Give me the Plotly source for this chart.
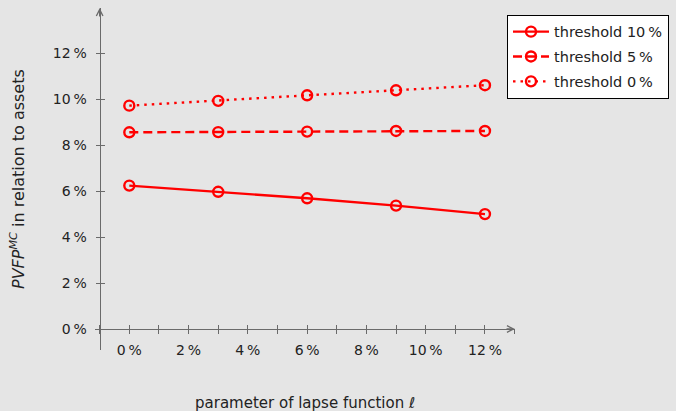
import plotly.graph_objects as go

# ---- data (percent) ----
lapse_param = [0, 3, 6, 9, 12]
threshold_10 = [6.24, 5.97, 5.69, 5.37, 5.00]
threshold_5 = [8.56, 8.57, 8.59, 8.62, 8.62]
threshold_0 = [9.72, 9.93, 10.17, 10.39, 10.61]
series_names = ["threshold 10\u2009%", "threshold 5\u2009%", "threshold 0\u2009%"]
x_ticks = [0, 2, 4, 6, 8, 10, 12]
x_tick_labels = ["0\u2009%", "2\u2009%", "4\u2009%", "6\u2009%", "8\u2009%", "10\u2009%", "12\u2009%"]
y_ticks = [0, 2, 4, 6, 8, 10, 12]
y_tick_labels = ["0\u2009%", "2\u2009%", "4\u2009%", "6\u2009%", "8\u2009%", "10\u2009%", "12\u2009%"]

RED = "#ff0000"
BG = "#e5e5e5"
AX = "#6a6a6a"
FONT = "DejaVu Sans"

W, H = 676, 411
L, R, T, B = 95, 161, 8, 61
x_range = [-1.157, 13.013]
y_range = [-0.914, 13.97]
yaxis_pos = (-1 - x_range[0]) / (x_range[1] - x_range[0])
xaxis_pos = (0 - y_range[0]) / (y_range[1] - y_range[0])

fig = go.Figure()
dashes = ["solid", "9px,5px", "2.5px,5px"]
for name, vals, dash in zip(series_names, [threshold_10, threshold_5, threshold_0], dashes):
    fig.add_trace(go.Scatter(
        x=lapse_param, y=vals, name=name, mode="lines+markers",
        line=dict(color=RED, width=2.4, dash=dash),
        marker=dict(symbol="circle-open", size=10, color=RED, line=dict(width=2.4, color=RED)),
        legendgroup=name,
    ))
# invisible trace so the overlaid tick-only axes get drawn
fig.add_trace(go.Scatter(x=[None], y=[None], xaxis="x2", yaxis="y2",
                         showlegend=False, hoverinfo="skip", mode="markers"))

tickfont = dict(family=FONT, size=14, color="#222")
fig.update_layout(
    width=W, height=H,
    margin=dict(l=L, r=R, t=T, b=B, autoexpand=False),
    paper_bgcolor=BG, plot_bgcolor=BG,
    font=dict(family=FONT, size=14, color="#222"),
    showlegend=True,
    legend=dict(
        x=(507 - L) / (W - L - R), y=(H - B - 14.7) / (H - T - B),
        xanchor="left", yanchor="top",
        bgcolor="white", bordercolor="black", borderwidth=1,
        font=dict(family=FONT, size=14.5, color="#222"),
        itemwidth=36, tracegroupgap=3, traceorder="grouped",
    ),
    xaxis=dict(
        range=x_range, anchor="free", position=xaxis_pos,
        showgrid=False, zeroline=False, showline=True, linecolor=AX, linewidth=1.3,
        tickvals=x_ticks, ticktext=x_tick_labels, ticks="outside", ticklen=4, tickcolor=AX, tickwidth=1,
        minor=dict(dtick=1, ticks="outside", ticklen=4, tickcolor=AX, tickwidth=1, showgrid=False),
        tickfont=tickfont, fixedrange=True, ticklabelstandoff=4,
    ),
    yaxis=dict(
        range=y_range, anchor="free", position=yaxis_pos,
        showgrid=False, zeroline=False, showline=True, linecolor=AX, linewidth=1.3,
        tickvals=y_ticks, ticktext=y_tick_labels, ticks="outside", ticklen=4, tickcolor=AX, tickwidth=1,
        tickfont=tickfont, fixedrange=True, ticklabelstandoff=6,
    ),
    xaxis2=dict(
        range=x_range, overlaying="x", anchor="free", position=xaxis_pos,
        showgrid=False, zeroline=False, showline=False, showticklabels=False,
        tickvals=x_ticks, ticks="inside", ticklen=4, tickcolor=AX, tickwidth=1,
        minor=dict(dtick=1, ticks="inside", ticklen=4, tickcolor=AX, tickwidth=1, showgrid=False),
        fixedrange=True,
    ),
    yaxis2=dict(
        range=y_range, overlaying="y", anchor="free", position=yaxis_pos,
        showgrid=False, zeroline=False, showline=False, showticklabels=False,
        tickvals=y_ticks, ticks="inside", ticklen=4, tickcolor=AX, tickwidth=1,
        fixedrange=True,
    ),
)

# axis arrows
fig.add_annotation(x=1, y=xaxis_pos, xref="paper", yref="paper", ax=-10, ay=0,
                   axref="pixel", ayref="pixel", text="", showarrow=True,
                   arrowhead=5, arrowsize=1, arrowwidth=1.3, arrowcolor=AX)
fig.add_annotation(x=yaxis_pos, y=1, xref="paper", yref="paper", ax=0, ay=10,
                   axref="pixel", ayref="pixel", text="", showarrow=True,
                   arrowhead=5, arrowsize=1, arrowwidth=1.3, arrowcolor=AX)

# axis titles
fig.add_annotation(x=0.5, y=0, xref="paper", yref="paper", yanchor="middle",
                   yshift=-53, showarrow=False,
                   text="parameter of lapse function <i>\u2113</i>",
                   font=dict(family=FONT, size=15, color="#222"))
fig.add_annotation(x=0, y=0.5, xref="paper", yref="paper", xanchor="center",
                   xshift=-78, textangle=-90, showarrow=False,
                   text="<i>PVFP</i><sup><i>MC</i></sup> in relation to assets",
                   font=dict(family=FONT, size=16, color="#222"))

fig.write_html("out.html", config={"displayModeBar": False},
               post_script="document.body.style.margin='0';document.body.style.overflow='hidden';")
